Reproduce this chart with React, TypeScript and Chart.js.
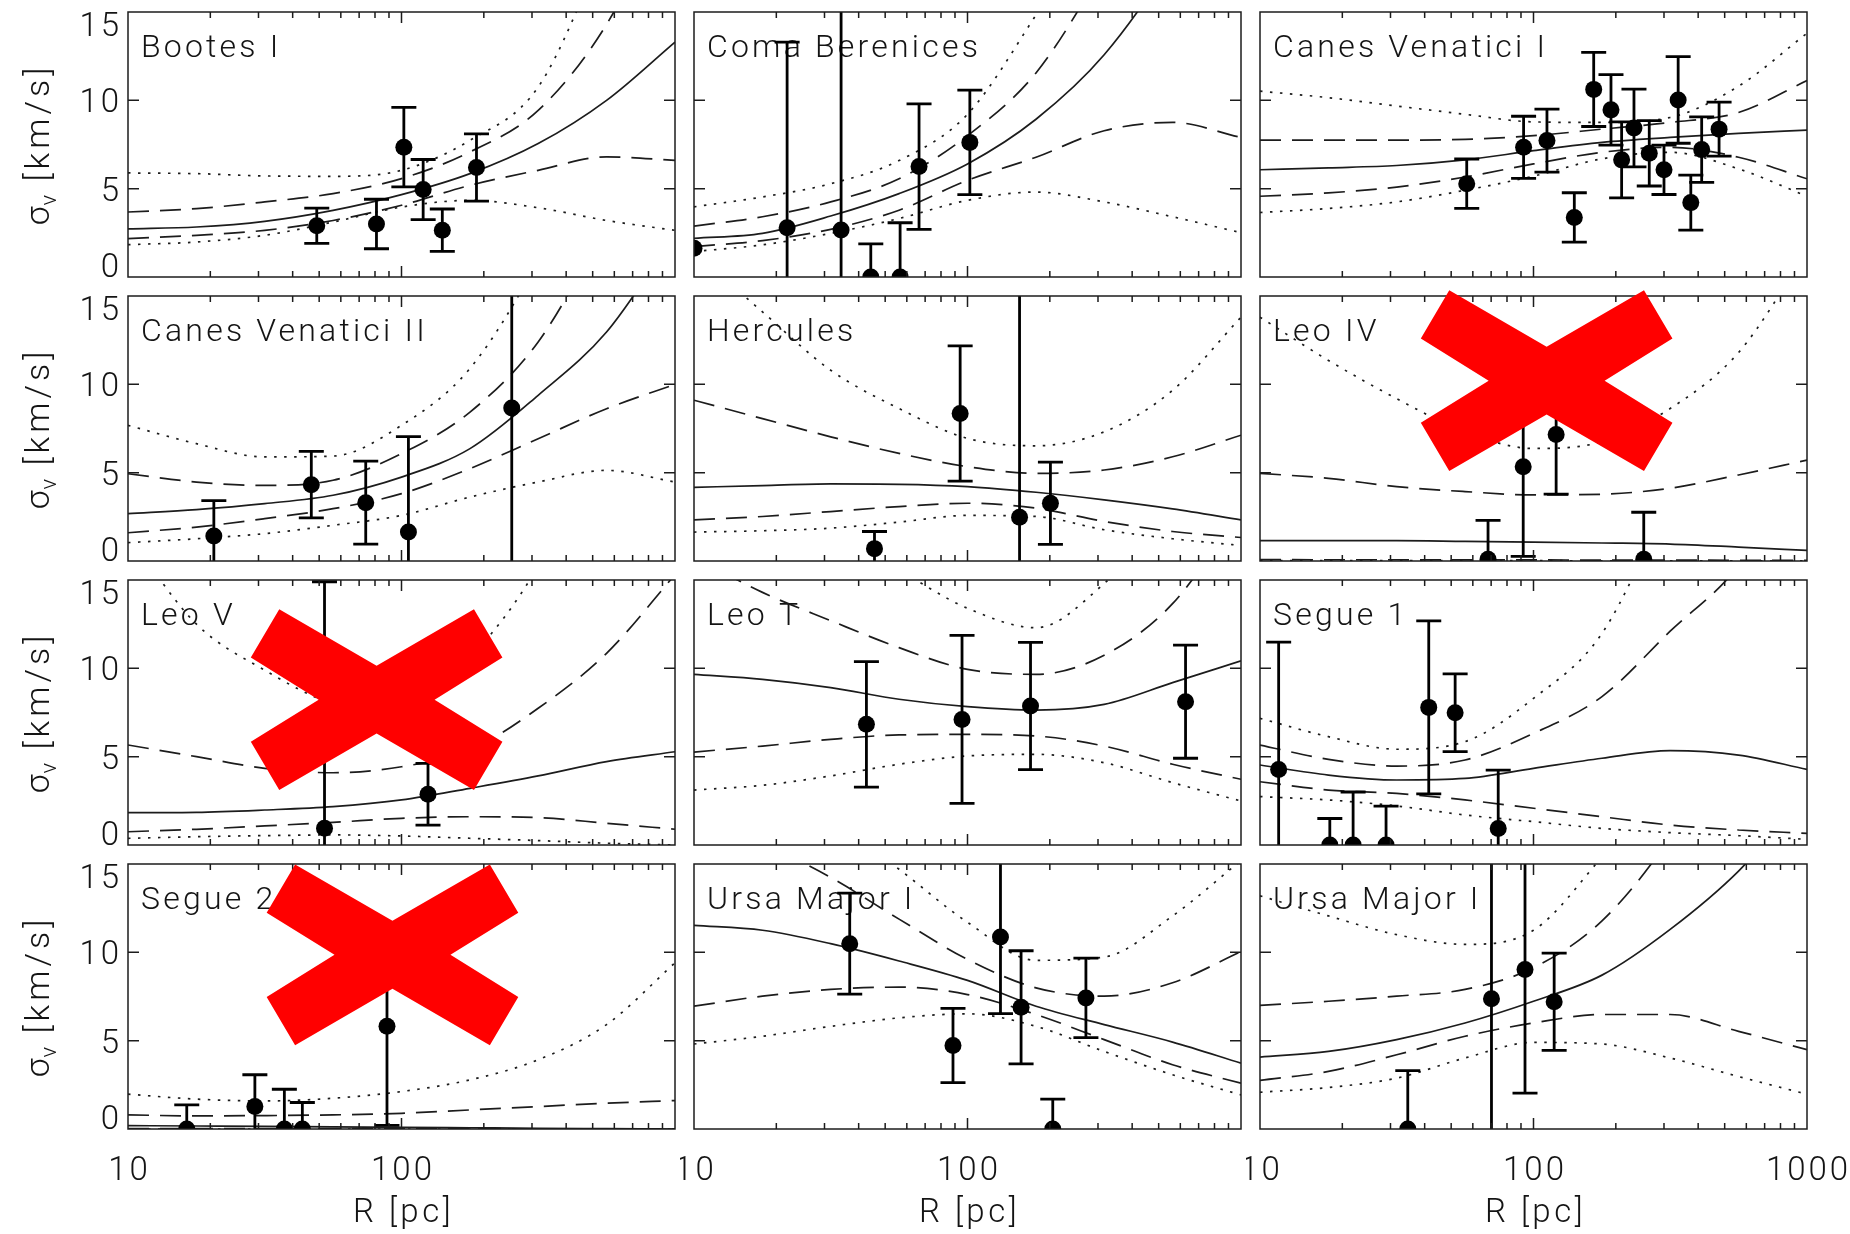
import { useEffect, useRef } from "react";
import { Chart, registerables } from "chart.js";

Chart.register(...registerables);

const RADIUS_GRID = [10, 17.8, 31.6, 56.2, 100, 178, 316, 562, 1000];

const X_TICK_LABELS = [10, 100, 1000];
const X_MINOR_TICKS = [20, 30, 40, 50, 60, 70, 80, 90, 200, 300, 400, 500, 600, 700, 800, 900];
const X_MAJOR_TICKS = [100];
const Y_TICK_LABELS = [0, 5, 10, 15];
const Y_INNER_TICKS = [5, 10];

// ---- Bootes I
const booR = [49, 81, 102, 120, 141, 188];
const booV = [2.9, 3.0, 7.35, 4.95, 2.65, 6.2];
const booE = [1.0, 1.4, 2.25, 1.7, 1.2, 1.9];
const booMed = [2.72, 2.83, 3.15, 3.77, 4.66, 5.85, 7.55, 10.0, 13.3];
const booHi1 = [3.68, 3.87, 4.25, 4.72, 5.57, 7.08, 9.43, 14.3, 22];
const booLo1 = [2.17, 2.36, 2.64, 3.2, 4.06, 5.19, 6.04, 6.8, 6.6];
const booHi2 = [5.89, 5.85, 5.72, 5.7, 6.04, 7.74, 10.75, 19, 28];
const booLo2 = [1.83, 1.98, 2.36, 3.11, 3.96, 4.34, 3.92, 3.2, 2.64];

// ---- Coma Berenices
const comR = [10, 21.9, 34.5, 44.3, 56.7, 66.5, 102];
const comV = [1.63, 2.79, 2.66, 0, 0, 6.25, 7.62];
const comE = [0, 10.5, 13, 1.87, 3.07, 3.55, 2.96];
const comMed = [2.19, 2.47, 3.45, 4.72, 6.4, 8.93, 12.58, 18, 25];
const comHi1 = [2.88, 3.41, 4.25, 5.56, 8.0, 11.55, 17.5, 24, 32];
const comLo1 = [1.72, 2.06, 2.7, 3.78, 5.47, 6.78, 8.28, 8.75, 7.9];
const comHi2 = [3.97, 4.53, 5.28, 6.59, 9.21, 14.83, 21, 29, 38];
const comLo2 = [1.44, 1.82, 2.47, 3.31, 4.34, 4.81, 4.25, 3.41, 2.51];

// ---- Canes Venatici I
const cv1R = [57, 92, 112, 141, 166, 192, 210, 233, 265, 300, 338, 376, 412, 477];
const cv1V = [5.28, 7.34, 7.72, 3.37, 10.62, 9.46, 6.63, 8.43, 7.0, 6.07, 10.02, 4.21, 7.21, 8.37];
const cv1E = [1.4, 1.76, 1.78, 1.4, 2.1, 2.0, 2.15, 2.2, 1.85, 1.4, 2.45, 1.56, 1.85, 1.53];
const cv1Med = [6.07, 6.18, 6.31, 6.63, 7.15, 7.62, 7.9, 8.13, 8.31];
const cv1Hi1 = [7.75, 7.75, 7.75, 7.79, 8.0, 8.37, 8.75, 9.31, 11.12];
const cv1Lo1 = [4.57, 4.76, 5.09, 5.66, 6.4, 7.06, 7.34, 6.78, 5.56];
const cv1Hi2 = [10.52, 10.15, 9.68, 9.21, 8.78, 8.75, 9.03, 10.8, 13.8];
const cv1Lo2 = [3.65, 3.88, 4.25, 4.91, 5.71, 6.69, 7.06, 6.12, 4.57];

// ---- Canes Venatici II
const cv2R = [20.6, 46.8, 74, 106, 253];
const cv2V = [1.42, 4.32, 3.3, 1.64, 8.66];
const cv2E = [2.0, 1.88, 2.35, 5.4, 12];
const cv2Med = [2.68, 2.91, 3.25, 3.72, 4.75, 6.36, 9.38, 12.96, 18.5];
const cv2Hi1 = [4.94, 4.47, 4.28, 4.57, 6.08, 8.43, 12.4, 19, 26];
const cv2Lo1 = [1.6, 1.92, 2.4, 2.96, 3.81, 5.23, 6.92, 8.62, 10.0];
const cv2Hi2 = [7.68, 6.64, 5.89, 5.94, 7.68, 10.9, 17, 25, 35];
const cv2Lo2 = [1.04, 1.26, 1.55, 2.02, 2.58, 3.62, 4.47, 5.13, 4.47];

// ---- Hercules
const herR = [45.7, 94, 155, 201];
const herV = [0.7, 8.35, 2.48, 3.27];
const herE = [0.97, 3.83, 15, 2.33];
const herMed = [4.17, 4.27, 4.36, 4.34, 4.21, 3.89, 3.46, 2.95, 2.33];
const herHi1 = [9.1, 8.06, 7.03, 6.09, 5.34, 4.96, 5.15, 5.9, 7.12];
const herLo1 = [2.33, 2.52, 2.8, 3.08, 3.27, 2.99, 2.24, 1.67, 1.33];
const herHi2 = [17.5, 14.1, 10.8, 8.63, 6.94, 6.52, 7.31, 9.66, 13.8];
const herLo2 = [1.64, 1.71, 1.86, 2.2, 2.58, 2.52, 1.77, 1.26, 0.88];

// ---- Leo IV
const le4R = [68.2, 91.7, 121, 253];
const le4V = [0.1, 5.34, 7.16, 0.1];
const le4E = [2.2, 5.08, 3.38, 2.66];
const le4Med = [1.15, 1.15, 1.15, 1.11, 1.07, 1.02, 0.96, 0.79, 0.6];
const le4Hi1 = [4.96, 4.68, 4.21, 3.93, 3.74, 3.78, 4.12, 4.87, 5.71];
const le4Lo1 = [0.08, 0.07, 0.07, 0.06, 0.06, 0.05, 0.05, 0.04, 0.04];
const le4Hi2 = [13.8, 11.35, 9.19, 7.31, 6.37, 6.75, 8.63, 11.8, 17.5];
const le4Lo2 = [0.02, 0.02, 0.02, 0.02, 0.02, 0.01, 0.01, 0.01, 0.01];

// ---- Leo V
const le5R = [52.3, 125];
const le5V = [0.95, 2.87];
const le5E = [13.95, 1.75];
const le5Med = [1.83, 1.85, 1.98, 2.17, 2.55, 3.21, 3.91, 4.72, 5.28];
const le5Hi1 = [5.66, 5.0, 4.34, 4.09, 4.43, 5.38, 7.74, 10.85, 15.3];
const le5Lo1 = [0.75, 0.89, 1.08, 1.28, 1.51, 1.6, 1.55, 1.23, 0.89];
const le5Hi2 = [17.5, 12.5, 9.9, 8.0, 7.6, 10.6, 15.8, 24, 32];
const le5Lo2 = [0.38, 0.47, 0.53, 0.57, 0.51, 0.38, 0.25, 0.1, 0.0];

// ---- Leo T
const letR = [42.7, 95.5, 170, 627];
const letV = [6.83, 7.11, 7.87, 8.11];
const letE = [3.55, 4.75, 3.6, 3.2];
const letMed = [9.66, 9.38, 8.91, 8.25, 7.83, 7.64, 7.96, 9.19, 10.42];
const letHi1 = [16.3, 14.3, 12.7, 11.17, 9.94, 9.66, 10.74, 13.66, 19];
const letLo1 = [5.26, 5.6, 5.98, 6.23, 6.26, 6.17, 5.6, 4.57, 3.72];
const letHi2 = [22, 19.5, 17.2, 15.5, 13.4, 12.3, 14.8, 19, 24];
const letLo2 = [3.11, 3.38, 3.91, 4.57, 5.04, 5.13, 4.66, 3.53, 2.49];

// ---- Segue 1
const se1R = [11.7, 18.0, 21.9, 28.9, 41.4, 51.7, 74.3];
const se1V = [4.28, 0, 0, 0, 7.79, 7.49, 0.94];
const se1E = [7.2, 1.5, 3.0, 2.2, 4.9, 2.2, 3.3];
const se1Med = [4.53, 3.96, 3.68, 3.77, 4.34, 4.91, 5.34, 5.09, 4.28];
const se1Hi1 = [5.66, 4.85, 4.47, 4.81, 6.32, 8.4, 12.1, 15.8, 22];
const se1Lo1 = [3.58, 3.11, 2.92, 2.55, 2.08, 1.6, 1.13, 0.85, 0.66];
const se1Hi2 = [7.17, 6.13, 5.42, 5.85, 8.3, 11.98, 19.7, 28, 38];
const se1Lo2 = [2.74, 2.55, 2.21, 1.7, 1.32, 0.94, 0.7, 0.53, 0.32];

// ---- Segue 2
const se2R = [16.4, 29.1, 37.3, 43.4, 88.5];
const se2V = [0, 1.27, 0, 0, 5.81];
const se2E = [1.36, 1.8, 2.25, 1.5, 5.6];
const se2Med = [0.19, 0.17, 0.15, 0.12, 0.1, 0.07, 0.04, 0.02, 0.0];
const se2Hi1 = [0.8, 0.74, 0.76, 0.8, 0.89, 1.08, 1.27, 1.46, 1.61];
const se2Lo1 = [0.02, 0.02, 0.02, 0.02, 0.02, 0.02, 0.01, 0.01, 0.01];
const se2Hi2 = [1.97, 1.69, 1.59, 1.74, 2.12, 2.78, 3.92, 5.91, 9.41];
const se2Lo2 = [0.0, 0.0, 0.0, 0.0, 0.0, 0.0, 0.0, 0.0, 0.0];

// ---- Ursa Major I (left)
const um1R = [37.1, 88.5, 132, 157, 205, 271];
const um1V = [10.49, 4.73, 10.87, 6.89, 0, 7.42];
const um1E = [2.86, 2.1, 4.34, 3.2, 1.69, 2.25];
const um1Med = [11.53, 11.25, 10.49, 9.51, 8.41, 6.95, 5.91, 4.92, 3.73];
const um1Hi1 = [18, 16.2, 14.24, 11.88, 9.6, 7.99, 7.52, 8.28, 10.04];
const um1Lo1 = [6.95, 7.52, 7.9, 8.03, 7.61, 6.48, 5.06, 3.64, 2.59];
const um1Hi2 = [23, 20, 17.5, 14.7, 11.7, 9.55, 9.73, 12.06, 15.2];
const um1Lo2 = [4.81, 5.25, 5.81, 6.29, 6.52, 5.81, 4.39, 3.07, 1.93];

// ---- Ursa Major I (right)
const um2R = [34.7, 70.2, 93.1, 119];
const um2V = [0, 7.37, 9.03, 7.2];
const um2E = [3.3, 15, 7.0, 2.75];
const um2Med = [4.07, 4.39, 5.06, 6.0, 7.23, 8.71, 11.3, 14.6, 19];
const um2Hi1 = [7.0, 7.23, 7.52, 7.9, 9.13, 11.78, 16.5, 23, 29];
const um2Lo1 = [2.75, 3.26, 4.2, 5.25, 6.0, 6.48, 6.48, 5.53, 4.49];
const um2Hi2 = [13.2, 12.06, 11.0, 10.45, 11.25, 15.4, 20, 26, 32];
const um2Lo2 = [2.08, 2.35, 2.88, 4.02, 4.9, 4.81, 4.02, 2.97, 1.97];

const PANELS = [
  { name: "Bootes I", r: booR, v: booV, e: booE, med: booMed, hi1: booHi1, lo1: booLo1, hi2: booHi2, lo2: booLo2 },
  { name: "Coma Berenices", r: comR, v: comV, e: comE, med: comMed, hi1: comHi1, lo1: comLo1, hi2: comHi2, lo2: comLo2 },
  { name: "Canes Venatici I", r: cv1R, v: cv1V, e: cv1E, med: cv1Med, hi1: cv1Hi1, lo1: cv1Lo1, hi2: cv1Hi2, lo2: cv1Lo2 },
  { name: "Canes Venatici II", r: cv2R, v: cv2V, e: cv2E, med: cv2Med, hi1: cv2Hi1, lo1: cv2Lo1, hi2: cv2Hi2, lo2: cv2Lo2 },
  { name: "Hercules", r: herR, v: herV, e: herE, med: herMed, hi1: herHi1, lo1: herLo1, hi2: herHi2, lo2: herLo2 },
  { name: "Leo IV", r: le4R, v: le4V, e: le4E, med: le4Med, hi1: le4Hi1, lo1: le4Lo1, hi2: le4Hi2, lo2: le4Lo2 },
  { name: "Leo V", r: le5R, v: le5V, e: le5E, med: le5Med, hi1: le5Hi1, lo1: le5Lo1, hi2: le5Hi2, lo2: le5Lo2 },
  { name: "Leo T", r: letR, v: letV, e: letE, med: letMed, hi1: letHi1, lo1: letLo1, hi2: letHi2, lo2: letLo2 },
  { name: "Segue 1", r: se1R, v: se1V, e: se1E, med: se1Med, hi1: se1Hi1, lo1: se1Lo1, hi2: se1Hi2, lo2: se1Lo2 },
  { name: "Segue 2", r: se2R, v: se2V, e: se2E, med: se2Med, hi1: se2Hi1, lo1: se2Lo1, hi2: se2Hi2, lo2: se2Lo2 },
  { name: "Ursa Major I", r: um1R, v: um1V, e: um1E, med: um1Med, hi1: um1Hi1, lo1: um1Lo1, hi2: um1Hi2, lo2: um1Lo2 },
  { name: "Ursa Major I", r: um2R, v: um2V, e: um2E, med: um2Med, hi1: um2Hi1, lo1: um2Lo1, hi2: um2Hi2, lo2: um2Lo2 },
];

// Red crosses (panel index -> centre as fraction of the plot area)
const CROSS_CENTERS: Record<number, [number, number]> = {
  5: [0.524, 0.3195],
  6: [0.4545, 0.4515],
  9: [0.4835, 0.3425],
};
const CROSS_SHAPE: [number, number][] = [
  [-0.178, -0.341], [0, -0.128], [0.178, -0.341], [0.23, -0.159], [0.106, 0], [0.23, 0.159],
  [0.178, 0.341], [0, 0.128], [-0.178, 0.341], [-0.23, 0.159], [-0.106, 0], [-0.23, -0.159],
];

// ---- layout / style
const COL_LEFT = [128, 694, 1260];
const ROW_TOP = [12, 296, 580, 864];
const PANEL_W = 547;
const PANEL_H = 265;
const FONT = '"Roboto", "DejaVu Sans", sans-serif';
const TEXT = "#141414";
const LINE = "#1c1c1c";
const DASH = [21, 11];
const DOT = [2.5, 7.5];

function curve(vals: number[], dash: number[]) {
  return {
    data: RADIUS_GRID.map((x, i) => ({ x, y: vals[i] })),
    borderColor: LINE,
    borderWidth: 1.7,
    borderDash: dash,
    pointRadius: 0,
    pointHoverRadius: 0,
    fill: false,
    tension: 0.4,
    cubicInterpolationMode: "monotone",
    capBezierPoints: false,
    clip: 0,
  };
}

function makePlugin(idx: number, row: number, col: number) {
  const spec = PANELS[idx];
  return {
    id: "panelDecor" + idx,
    beforeDatasetsDraw(chart: any) {
      const { ctx, chartArea: a } = chart;
      ctx.save();
      ctx.font = `300 32px ${FONT}`;
      ctx.fillStyle = TEXT;
      (ctx as any).letterSpacing = "3.2px";
      ctx.textAlign = "left";
      ctx.textBaseline = "alphabetic";
      ctx.fillText(spec.name, a.left + 13, a.top + 45);
      ctx.restore();
    },
    beforeDatasetDraw(chart: any, args: any) {
      if (args.index !== 0) return;
      const { ctx, chartArea: a } = chart;
      const xs = chart.scales.x;
      const ys = chart.scales.y;
      ctx.save();
      ctx.beginPath();
      ctx.rect(a.left, a.top, a.width, a.height);
      ctx.clip();
      ctx.strokeStyle = "#000";
      ctx.lineWidth = 2.8;
      ctx.lineCap = "butt";
      spec.r.forEach((r: number, i: number) => {
        const e = spec.e[i];
        if (!e) return;
        const x = xs.getPixelForValue(r);
        const yT = ys.getPixelForValue(spec.v[i] + e);
        const yB = ys.getPixelForValue(spec.v[i] - e);
        ctx.beginPath();
        ctx.moveTo(x, yT);
        ctx.lineTo(x, yB);
        ctx.moveTo(x - 12.5, yT);
        ctx.lineTo(x + 12.5, yT);
        ctx.moveTo(x - 12.5, yB);
        ctx.lineTo(x + 12.5, yB);
        ctx.stroke();
      });
      ctx.restore();
    },
    afterDatasetsDraw(chart: any) {
      const { ctx, chartArea: a } = chart;
      const xs = chart.scales.x;
      const ys = chart.scales.y;
      ctx.save();
      ctx.strokeStyle = LINE;
      ctx.lineWidth = 1.5;
      ctx.strokeRect(a.left, a.top, a.width, a.height);
      ctx.beginPath();
      X_MINOR_TICKS.forEach((v) => {
        const x = xs.getPixelForValue(v);
        ctx.moveTo(x, a.bottom);
        ctx.lineTo(x, a.bottom - 6);
        ctx.moveTo(x, a.top);
        ctx.lineTo(x, a.top + 6);
      });
      X_MAJOR_TICKS.forEach((v) => {
        const x = xs.getPixelForValue(v);
        ctx.moveTo(x, a.bottom);
        ctx.lineTo(x, a.bottom - 11);
        ctx.moveTo(x, a.top);
        ctx.lineTo(x, a.top + 11);
      });
      Y_INNER_TICKS.forEach((v) => {
        const y = ys.getPixelForValue(v);
        ctx.moveTo(a.left, y);
        ctx.lineTo(a.left + 11, y);
        ctx.moveTo(a.right, y);
        ctx.lineTo(a.right - 11, y);
      });
      ctx.stroke();

      ctx.fillStyle = TEXT;
      ctx.font = `300 33px ${FONT}`;
      (ctx as any).letterSpacing = "3px";
      if (col === 0) {
        ctx.textAlign = "right";
        ctx.textBaseline = "alphabetic";
        Y_TICK_LABELS.forEach((v) => {
          const y = ys.getPixelForValue(v);
          let base = y + 12;
          if (v === 15) base = a.top + 24;
          if (v === 0) base = a.bottom;
          ctx.fillText(String(v), a.left - 6, base);
        });
        // y title
        ctx.save();
        ctx.translate(49, a.top + a.height / 2);
        ctx.rotate(-Math.PI / 2);
        ctx.textAlign = "left";
        ctx.font = `300 34px ${FONT}`;
        (ctx as any).letterSpacing = "0px";
        const sigW = ctx.measureText("σ").width;
        ctx.font = `300 22px ${FONT}`;
        const subW = ctx.measureText("v").width;
        ctx.font = `300 34px ${FONT}`;
        (ctx as any).letterSpacing = "4px";
        const restW = ctx.measureText(" [km/s]").width;
        const total = sigW + subW + 2 + restW;
        let x0 = -total / 2;
        (ctx as any).letterSpacing = "0px";
        ctx.fillText("σ", x0, 0);
        x0 += sigW + 1;
        ctx.font = `300 22px ${FONT}`;
        ctx.fillText("v", x0, 7);
        x0 += subW + 1;
        ctx.font = `300 34px ${FONT}`;
        (ctx as any).letterSpacing = "4px";
        ctx.fillText(" [km/s]", x0, 0);
        ctx.restore();
      }
      if (row === 3) {
        ctx.textAlign = "center";
        ctx.textBaseline = "alphabetic";
        ctx.font = `300 33px ${FONT}`;
        (ctx as any).letterSpacing = "3px";
        X_TICK_LABELS.forEach((v) => {
          if (v === 1000 && col !== 2) return;
          const x = xs.getPixelForValue(v);
          ctx.fillText(String(v), x + 1.5, a.bottom + 51);
        });
        (ctx as any).letterSpacing = "3.5px";
        ctx.fillText("R [pc]", (a.left + a.right) / 2 + 2, a.bottom + 93);
      }
      ctx.restore();
    },
    afterDraw(chart: any) {
      const c = CROSS_CENTERS[idx];
      if (!c) return;
      const { ctx, chartArea: a } = chart;
      const cx = a.left + c[0] * a.width;
      const cy = a.top + c[1] * a.height;
      ctx.save();
      ctx.beginPath();
      CROSS_SHAPE.forEach(([dx, dy], k) => {
        const px = cx + dx * a.width;
        const py = cy + dy * a.height;
        if (k === 0) ctx.moveTo(px, py);
        else ctx.lineTo(px, py);
      });
      ctx.closePath();
      ctx.fillStyle = "#ff0000";
      ctx.fill();
      ctx.restore();
    },
  };
}

function Panel({ idx }: { idx: number }) {
  const ref = useRef<HTMLCanvasElement>(null);
  const row = Math.floor(idx / 3);
  const col = idx % 3;
  const padL = col === 0 ? COL_LEFT[0] : 14;
  const padR = col === 2 ? 1850 - COL_LEFT[2] - PANEL_W : 14;
  const padT = 12;
  const padB = row === 3 ? 1234 - ROW_TOP[3] - PANEL_H : 14;
  const w = padL + PANEL_W + padR;
  const h = padT + PANEL_H + padB;
  const left = COL_LEFT[col] - padL;
  const top = ROW_TOP[row] - padT;

  useEffect(() => {
    const spec = PANELS[idx];
    const chart = new Chart(ref.current as HTMLCanvasElement, {
      type: "line",
      data: {
        datasets: [
          {
            data: spec.r.map((x: number, i: number) => ({ x, y: spec.v[i] })),
            showLine: false,
            pointRadius: 8.5,
            pointHoverRadius: 8.5,
            pointBackgroundColor: "#000",
            pointBorderWidth: 0,
            pointBorderColor: "#000",
            clip: 0,
          } as any,
          curve(spec.med, []),
          curve(spec.hi1, DASH),
          curve(spec.lo1, DASH),
          curve(spec.hi2, DOT),
          curve(spec.lo2, DOT),
        ],
      },
      options: {
        responsive: false,
        animation: false,
        devicePixelRatio: 1,
        events: [],
        layout: { padding: { left: padL, right: padR, top: padT, bottom: padB } },
        plugins: { legend: { display: false }, tooltip: { enabled: false } },
        scales: {
          x: { type: "logarithmic", min: 10, max: 1000, display: false },
          y: { type: "linear", min: 0, max: 15, display: false },
        },
      } as any,
      plugins: [makePlugin(idx, row, col) as any],
    });
    return () => chart.destroy();
  }, []);

  return (
    <canvas
      ref={ref}
      width={w}
      height={h}
      style={{ position: "absolute", left, top, width: w, height: h }}
    />
  );
}

export default function App() {
  return (
    <div
      style={{
        position: "absolute",
        left: 0,
        top: 0,
        width: 1850,
        height: 1234,
        background: "#fff",
        overflow: "hidden",
      }}
    >
      {PANELS.map((_, i) => (
        <Panel key={i} idx={i} />
      ))}
    </div>
  );
}
